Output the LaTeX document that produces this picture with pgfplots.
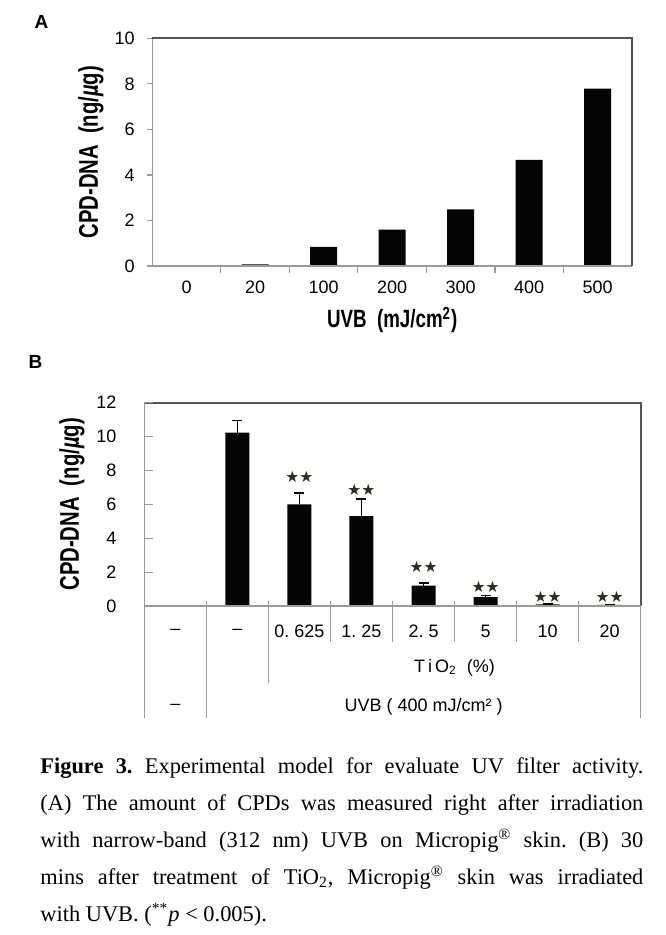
\documentclass[border=0pt]{standalone}
\usepackage{fontspec}
\setmainfont{Liberation Serif}
\newfontfamily\gul{Liberation Sans}
\newfontfamily\labfont[FakeStretch=0.75]{Liberation Sans}
\newfontfamily\starfont{DejaVu Sans}
\usepackage{pgfplots}
\pgfplotsset{compat=1.18}
\definecolor{axdark}{HTML}{555555}
\definecolor{axgray}{HTML}{9A9A9A}
\definecolor{barblack}{HTML}{050505}
\definecolor{stars}{HTML}{2E2C26}

\begin{document}
\frenchspacing
\begin{tikzpicture}
\path[use as bounding box] (0,0) rectangle (332.5pt,-467.5pt);
\fill[white] (0,0) rectangle (332.5pt,-467.5pt);

\node[font=\gul\bfseries\fontsize{9.5}{10}\selectfont] at (20.75pt,-10.75pt) {A};
\node[font=\gul\bfseries\fontsize{9.5}{10}\selectfont] at (17.75pt,-180.75pt) {B};

% ---------------- Panel A ----------------
\begin{axis}[
  at={(76.15pt,-133pt)}, anchor=south west,
  scale only axis, width=239.85pt, height=113.85pt,
  xmin=-0.5, xmax=6.5, ymin=0, ymax=10,
  axis line style={draw=none},
  tick style={draw=none}, major tick length=0pt,
  xtick={0,...,6}, xticklabels={0,20,100,200,300,400,500},
  ytick={0,2,4,6,8,10},
  ticklabel style={font=\gul\fontsize{9}{10}\selectfont},
  /pgf/number format/assume math mode=true,
  xticklabel style={anchor=center, inner sep=0pt, yshift=-10.5pt},
  yticklabel style={anchor=east, inner sep=0pt, xshift=-8.65pt},
  xlabel={\labfont\bfseries UVB\ \ (mJ/cm\textsuperscript{2})},
  xlabel style={at={(rel axis cs:0.5,0)}, anchor=center, yshift=-27pt, font=\fontsize{12.5}{13}\selectfont},
  ylabel={\labfont\bfseries CPD-DNA\ \ (ng/\textit{µ}g)},
  ylabel style={at={(rel axis cs:-0.1278,0.5)}, anchor=center, font=\fontsize{13.5}{14}\selectfont},
  clip=false,
]
\addplot[ybar, bar width=0.394, fill=barblack, draw=none]
  coordinates {(0,0) (1,0.07) (2,0.84) (3,1.6) (4,2.49) (5,4.66) (6,7.79)};
\draw[axgray, line width=0.6pt] (rel axis cs:0,1) -- (rel axis cs:0,0) -- (rel axis cs:1,0);
\draw[axdark, line width=0.9pt] (rel axis cs:0,1) -- (rel axis cs:1,1) -- (rel axis cs:1,0);
\pgfplotsinvokeforeach{0,2,4,6,8,10}{\draw[axgray, line width=0.6pt] (axis cs:-0.5,#1) -- ([xshift=-2.75pt]axis cs:-0.5,#1);}
\pgfplotsinvokeforeach{0.5,1.5,2.5,3.5,4.5,5.5}{\draw[axgray, line width=0.6pt] (axis cs:#1,0) -- ([yshift=-3.25pt]axis cs:#1,0);}
\end{axis}

% ---------------- Panel B ----------------
\begin{axis}[
  at={(72.15pt,-303pt)}, anchor=south west,
  scale only axis, width=248.2pt, height=101.65pt,
  xmin=-0.5, xmax=7.5, ymin=0, ymax=12,
  axis line style={draw=none},
  tick style={draw=none}, major tick length=0pt,
  xtick={0,...,7}, xticklabels={–,–,0. 625,1. 25,2. 5,5,10,20},
  ytick={0,2,4,6,8,10,12},
  ticklabel style={font=\gul\fontsize{9}{10}\selectfont},
  /pgf/number format/assume math mode=true,
  xticklabel style={anchor=center, inner sep=0pt, yshift=-12.85pt},
  yticklabel style={anchor=east, inner sep=0pt, xshift=-13.8pt},
  ylabel={\labfont\bfseries CPD-DNA\ \ (ng/\textit{µ}g)},
  ylabel style={at={(rel axis cs:-0.1457,0.5)}, anchor=center, font=\fontsize{13.5}{14}\selectfont},
  clip=false,
]
\addplot[ybar, bar width=0.387, fill=barblack, draw=none,
  error bars/.cd, y dir=plus, y explicit,
  error bar style={line width=0.8pt, black},
  error mark options={rotate=90, mark size=2.5pt, line width=0.8pt, black}]
  coordinates {(1,10.23) +- (0,0.71) (2,6.0) +- (0,0.67) (3,5.31) +- (0,1.01)
               (4,1.2) +- (0,0.16) (5,0.53) +- (0,0.08) (6,0.1) +- (0,0.02) (7,0.07) +- (0,0.01)};
\addplot[draw=none, mark=none, nodes near coords={\starfont ★★},
  every node near coord/.append style={anchor=center, inner sep=0pt, text=stars, font=\fontsize{7.8}{8}\selectfont}]
  coordinates {(2,7.63) (3,6.85) (4,2.30) (5,1.10) (6,0.51) (7,0.51)};
% frame and table lines
\draw[axdark, line width=0.9pt] (axis cs:-0.5,12) -- (axis cs:7.5,12) -- (axis cs:7.5,0);
\draw[axgray, line width=0.6pt] (axis cs:-0.5,12) -- (axis cs:-0.5,-6.61);
\draw[axgray, line width=0.6pt] (axis cs:7.5,0) -- (axis cs:7.5,-6.61);
\draw[axgray, line width=0.6pt] (axis cs:-0.5,0) -- (axis cs:7.5,0);
\draw[axgray, line width=0.6pt] (axis cs:0.5,0.3) -- (axis cs:0.5,-6.61);
\draw[axgray, line width=0.6pt] (axis cs:1.5,0.3) -- (axis cs:1.5,-4.55);
\pgfplotsinvokeforeach{2.5,3.5,4.5,5.5,6.5}{\draw[axgray, line width=0.6pt] (axis cs:#1,0.3) -- (axis cs:#1,-2.11);}
\pgfplotsinvokeforeach{0,2,4,6,8,10,12}{\draw[axgray, line width=0.6pt] (axis cs:-0.5,#1) -- ([xshift=4.2pt]axis cs:-0.5,#1);}
\node[font=\gul\fontsize{9}{10}\selectfont] at (axis cs:4.5,-3.66) {T\,i\,O\textsubscript{2}\ \ (\%)};
\node[font=\gul\fontsize{9}{10}\selectfont] at (axis cs:0,-5.94) {–};
\node[font=\gul\fontsize{9}{10}\selectfont] at (axis cs:4,-5.94) {UVB ( 400 mJ/cm² )};
\end{axis}

% ---------------- Caption ----------------
\node[anchor=base west, inner sep=0pt, text width=301.5pt, align=justify,
      font=\fontsize{11.2}{18.6}\selectfont] at (20pt,-386.5pt)
{\frenchspacing\textbf{Figure 3.} Experimental model for evaluate UV filter activity.\linebreak
(A) The amount of CPDs was measured right after irradiation\linebreak
with narrow-band (312 nm) UVB on Micropig\textsuperscript{\textregistered} skin. (B) 30\linebreak
mins after treatment of TiO\textsubscript{2}, Micropig\textsuperscript{\textregistered} skin was irradiated\linebreak
with UVB. (\textsuperscript{**}\textit{p} < 0.005).};
\end{tikzpicture}
\end{document}
